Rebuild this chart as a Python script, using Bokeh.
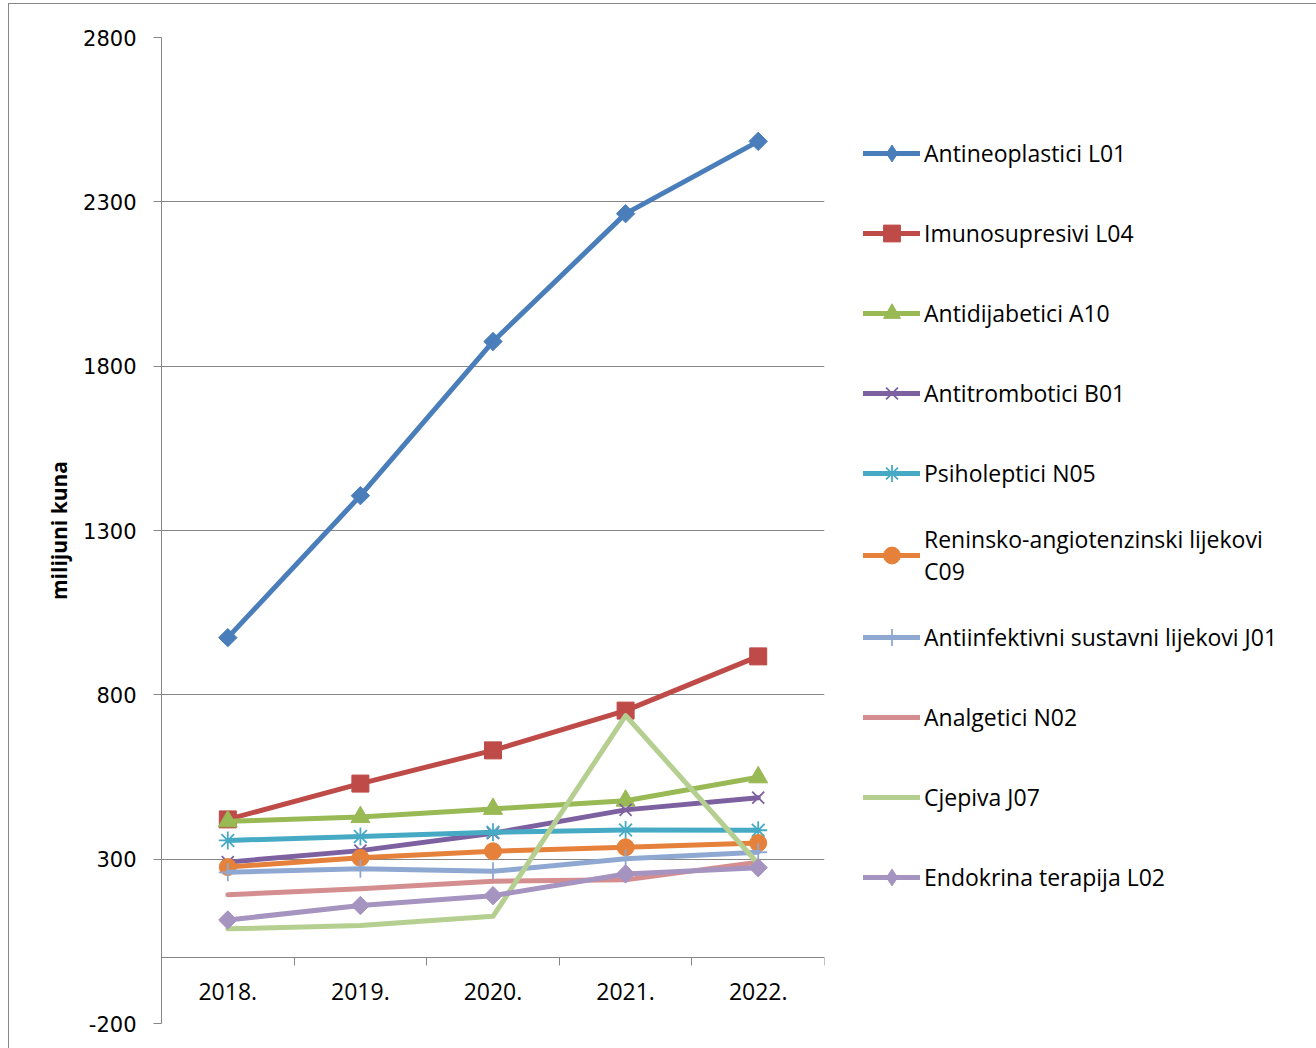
import numpy as np
from bokeh.plotting import figure
from bokeh.models import (Range1d, FixedTicker, LinearAxis, Legend, LegendItem,
                          ColumnDataSource)
from bokeh.embed import file_html
from bokeh.resources import INLINE

# ---- data ----
years = ["2018.", "2019.", "2020.", "2021.", "2022."]
antineoplastici_L01 = [974, 1406, 1875, 2264, 2484]
imunosupresivi_L04 = [421, 530, 631, 752, 917]
antidijabetici_A10 = [415, 428, 453, 478, 549]
antitrombotici_B01 = [291, 326, 379, 450, 487]
psiholeptici_N05 = [357, 369, 382, 389, 388]
reninsko_C09 = [276, 304, 324, 336, 349]
antiinfektivni_J01 = [260, 271, 263, 301, 321]
analgetici_N02 = [192, 210, 233, 237, 291]
cjepiva_J07 = [88, 98, 126, 737, 286]
endokrina_L02 = [115, 159, 189, 255, 274]
y_ticks = [-200, 300, 800, 1300, 1800, 2300, 2800]

xs = list(range(1, len(years) + 1))
GRAY = "#868686"

# (label, values, color, marker, size, angle, legend marker)
series = [
    ("Antineoplastici L01", antineoplastici_L01, "#4A7EBB", "square", 13, np.pi / 4, "diamond"),
    ("Imunosupresivi L04", imunosupresivi_L04, "#BE4B48", "square", 17, 0, None),
    ("Antidijabetici A10", antidijabetici_A10, "#98B954", "triangle", 19, 0, None),
    ("Antitrombotici B01", antitrombotici_B01, "#7D60A0", "x", 17, 0, None),
    ("Psiholeptici N05", psiholeptici_N05, "#46AAC5", "asterisk", 18, 0, None),
    ("Reninsko-angiotenzinski lijekovi\nC09", reninsko_C09, "#E5813A", "circle", 17, 0, None),
    ("Antiinfektivni sustavni lijekovi J01", antiinfektivni_J01, "#8EA8D2", "cross", 18, 0, None),
    ("Analgetici N02", analgetici_N02, "#D58E8F", None, 0, 0, None),
    ("Cjepiva J07", cjepiva_J07, "#B5CF90", None, 0, 0, None),
    ("Endokrina terapija L02", endokrina_L02, "#A593C0", "square", 13, np.pi / 4, "diamond"),
]

p = figure(
    frame_width=663, frame_height=986,
    x_range=Range1d(0.5, 5.5), y_range=Range1d(-200, 2800),
    output_backend="svg", toolbar_location=None,
    x_axis_location=None, y_axis_location="left",
    min_border_left=152, min_border_top=33, min_border_right=489, min_border_bottom=25,
    background_fill_color="white", border_fill_color="white",
)
# off-frame range used only to give legend entries an unrotated diamond glyph
p.extra_x_ranges = {"legend_only": Range1d(100, 101)}
p.outline_line_color = None
p.styles = {"border": "1px solid #868686", "margin-left": "8px", "margin-top": "3px"}

# y axis
yax = p.yaxis[0]
yax.ticker = FixedTicker(ticks=y_ticks)
yax.major_label_overrides = {t: str(t) for t in y_ticks}
yax.axis_line_color = GRAY
yax.major_tick_line_color = GRAY
yax.major_tick_out = 8
yax.major_tick_in = 0
yax.minor_tick_line_color = None
yax.major_label_text_font = "DejaVu Sans"
yax.major_label_text_font_size = "21px"
yax.major_label_text_color = "black"
yax.major_label_standoff = 17
yax.axis_label = "milijuni kuna"
yax.axis_label_text_font = "Open Sans"
yax.axis_label_text_font_style = "bold"
yax.axis_label_text_font_size = "21px"
yax.axis_label_text_color = "black"
yax.axis_label_standoff = 7

p.ygrid.ticker = FixedTicker(ticks=y_ticks)
p.ygrid.grid_line_color = GRAY
p.ygrid.grid_line_width = 1
p.xgrid.visible = False

# category axis crossing at y = 0
bounds = [x + 0.5 for x in xs]
tick_axis = LinearAxis(
    ticker=FixedTicker(ticks=bounds), fixed_location=0,
    major_label_overrides={b: "" for b in bounds},
    axis_line_color=GRAY, major_tick_line_color=GRAY,
    major_tick_out=8, major_tick_in=0, minor_tick_line_color=None,
)
label_axis = LinearAxis(
    ticker=FixedTicker(ticks=xs), fixed_location=0,
    major_label_overrides={x: y for x, y in zip(xs, years)},
    axis_line_color=None, major_tick_line_color=None, minor_tick_line_color=None,
    major_tick_out=0, major_tick_in=0, major_label_standoff=25,
    major_label_text_font="Open Sans", major_label_text_font_size="23px",
    major_label_text_color="black",
)
p.add_layout(tick_axis, "below")
p.add_layout(label_axis, "below")

items = []
for label, vals, color, marker, size, angle, leg_marker in series:
    src = ColumnDataSource(data=dict(x=xs, y=vals))
    rs = [p.line("x", "y", source=src, line_color=color, line_width=5,
                 line_join="round", line_cap="round")]
    if marker is not None:
        if marker in ("x", "asterisk", "cross"):
            sr = p.scatter("x", "y", source=src, marker=marker, size=size, line_color=color,
                           line_width=1.8, fill_color=None)
        else:
            sr = p.scatter("x", "y", source=src, marker=marker, size=size, angle=angle,
                           line_color=color, fill_color=color)
        if leg_marker is None:
            rs.append(sr)
        else:
            # legend-only glyph mapped to the off-frame range (legends ignore marker angle)
            rs.append(p.scatter("x", "y", source=src, marker=leg_marker, size=size,
                                line_color=color, fill_color=color,
                                x_range_name="legend_only"))
    items.append(LegendItem(label=label, renderers=rs))

legend = Legend(
    items=items, location=(39, 116), orientation="vertical",
    glyph_width=57, glyph_height=42, label_height=60, spacing=20,
    padding=0, margin=0, label_standoff=4,
    label_text_font="Open Sans", label_text_font_size="23px",
    label_text_line_height=1.6, label_text_color="black",
    border_line_color=None, background_fill_alpha=0,
)
p.add_layout(legend, "right")

open("out.html", "w").write(file_html(p, INLINE))
